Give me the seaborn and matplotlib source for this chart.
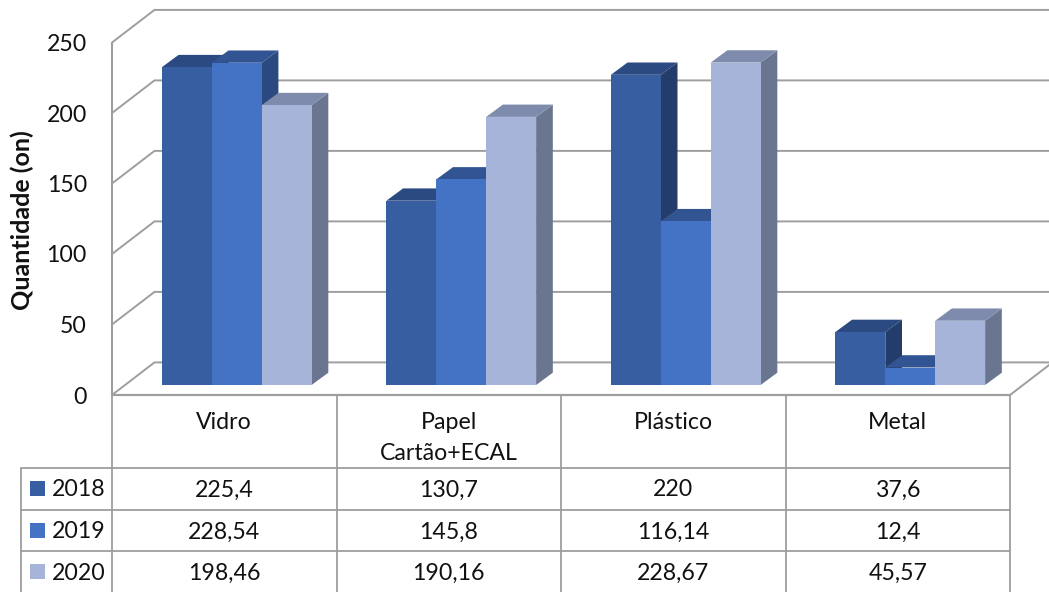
import matplotlib
matplotlib.use("Agg")
import matplotlib.pyplot as plt
from matplotlib.lines import Line2D
from matplotlib.patches import Polygon, Rectangle
from matplotlib.transforms import Affine2D, ScaledTranslation
import pandas as pd
import seaborn as sns

categories = ["Vidro", "Papel\nCartão+ECAL", "Plástico", "Metal"]
years = ["2018", "2019", "2020"]
values_2018 = [225.4, 130.7, 220, 37.6]
values_2019 = [228.54, 145.8, 116.14, 12.4]
values_2020 = [198.46, 190.16, 228.67, 45.57]
y_ticks = [0, 50, 100, 150, 200, 250]
front_colors = ["#375EA0", "#4472C4", "#A6B4DA"]
top_colors = ["#2B4A82", "#335493", "#7F8BAD"]
side_colors = ["#243C69", "#2B4880", "#6A7590"]

W, H = 1049, 592
sns.set_theme(style="white")
plt.rcParams["font.family"] = ["Lato", "DejaVu Sans"]
GRID = "#9E9E9E"
TXT = "#111111"
FS = 16.7

series = [values_2018, values_2019, values_2020]
df = pd.DataFrame({
    "categoria": categories * 3,
    "ano": [y for y in years for _ in categories],
    "quantidade": values_2018 + values_2019 + values_2020,
})

fig = plt.figure(figsize=(W / 100, H / 100), dpi=100, facecolor="white")
L, R, BASE = 112, 1010, 385
ax = fig.add_axes([L / W, (H - BASE) / H, (R - L) / W, BASE / H])
ax.patch.set_alpha(0)
sns.barplot(data=df, x="categoria", y="quantidade", hue="ano", order=categories,
            hue_order=years, palette=front_colors, width=0.667, gap=0, saturation=1,
            legend=False, ax=ax, linewidth=0)

PX_Y = 1.41
PX_X = (R - L) / 4
ax.set_xlim(-0.5, 3.5)
ax.set_ylim(0, BASE / PX_Y)
sns.despine(ax=ax, left=True, bottom=True)
ax.grid(False)

# 3D faces, from each seaborn bar; the bars stand in the middle of the floor's depth
shift = 12.5 / PX_X
dx, dy = 16.7 / PX_X, 12.3 / PX_Y
bars = []
for i, cols in enumerate(zip(top_colors, side_colors)):
    for p in ax.containers[i]:
        p.set_x(p.get_x() + shift)
        bars.append((p, cols))
bars.sort(key=lambda b: b[0].get_x())
for n, (p, (tc, sc)) in enumerate(bars):
    x0, w, h = p.get_x(), p.get_width(), p.get_height()
    z = 3 + n
    ax.add_patch(Polygon([(x0 + w, 0), (x0 + w + dx, dy), (x0 + w + dx, h + dy), (x0 + w, h)],
                         closed=True, fc=sc, ec="none", zorder=z, clip_on=False))
    ax.add_patch(Polygon([(x0, h), (x0 + dx, h + dy), (x0 + w + dx, h + dy), (x0 + w, h)],
                         closed=True, fc=tc, ec="none", zorder=z, clip_on=False))
    p.set_zorder(z + 0.5)

# walls: grid lines on the back and left planes
front = -10 / PX_Y
back = 22.6 / PX_Y
xb = -0.5 + 42.5 / PX_X
xr = -0.5 + (W + 2 - L) / PX_X
for t in y_ticks:
    ax.plot([-0.5, xb, xr], [t + front, t + back, t + back], color=GRID, lw=1.4,
            zorder=1, clip_on=False, solid_joinstyle="miter")
ax.plot([-0.5, -0.5], [front, y_ticks[-1] + front], color=GRID, lw=1.5, zorder=1, clip_on=False)
ax.plot([3.5, 3.5 + 42.5 / PX_X], [front, back], color=GRID, lw=1.4, zorder=1, clip_on=False)

# axes text
ax.set_yticks(y_ticks)
ax.set_yticklabels([str(t) for t in y_ticks], fontsize=FS, color=TXT)
ax.tick_params(axis="y", length=0, pad=18)
off = ScaledTranslation(0, -10 / 100, fig.dpi_scale_trans)
for lab in ax.get_yticklabels():
    lab.set_transform(lab.get_transform() + off)
ax.set_xlabel("")
ax.set_xticks(range(4))
ax.set_xticklabels(categories, fontsize=FS, color=TXT, linespacing=1.6, va="top")
ax.tick_params(axis="x", length=0, pad=19.5)
ax.set_ylabel("Quantidade (on)", fontsize=18, fontweight="bold", color=TXT)
ax.yaxis.set_label_coords((34 - L) / (R - L), (BASE - 220) / BASE)

# data table
px = Affine2D().scale(1, -1).translate(0, H)
def line(x0, y0, x1, y1, lw=1.3, c=GRID):
    fig.add_artist(Line2D([x0, x1], [y0, y1], transform=px, color=c, lw=lw))
col_x = [L + PX_X * i for i in range(5)]
row_y = [467.5, 509.5, 551]
for x in col_x:
    line(x, 395, x, H)
line(20.5, row_y[0], 20.5, H)
line(L, 395, R, 395, lw=1.6)
for y in row_y:
    line(20.5, y, R, y)
row_c = [488, 530, 571]
fmt = lambda v: f"{v:g}".replace(".", ",")
for r, (yr, vals, c) in enumerate(zip(years, series, front_colors)):
    fig.add_artist(Rectangle((30, row_c[r] - 7.5), 15, 15, transform=px, fc=c, ec="none"))
    fig.text(52 / W, (H - row_c[r]) / H, yr, ha="left", va="center_baseline", fontsize=FS, color=TXT)
    for i, v in enumerate(vals):
        fig.text((L + PX_X * (i + 0.5)) / W, (H - row_c[r]) / H, fmt(v), ha="center",
                 va="center_baseline", fontsize=FS, color=TXT)

fig.savefig("out.png", dpi=100, facecolor="white")
